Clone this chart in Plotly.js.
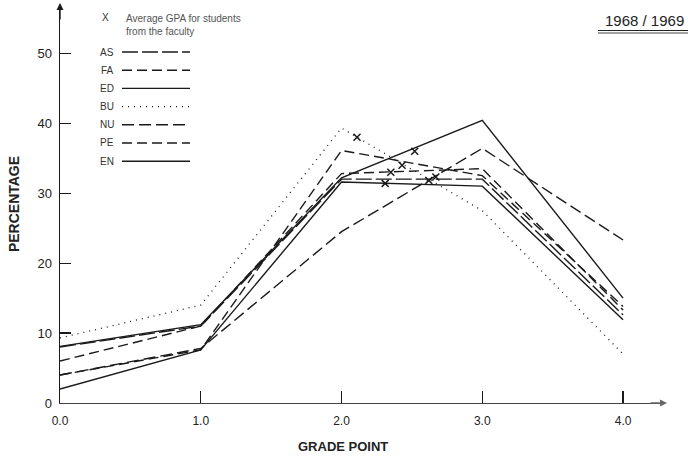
<!DOCTYPE html>
<html>
<head>
<meta charset="utf-8">
<script src="https://cdn.plot.ly/plotly-3.0.1.min.js"></script>
<style>html,body{margin:0;padding:0;background:#fff;}#chart{width:688px;height:465px;}</style>
</head>
<body>
<div id="chart"></div>
<script>
// Grade points (x) and percentages per faculty
const gradePoints = [0, 1, 2, 3, 4];
const gradeLabels = ["0.0", "1.0", "2.0", "3.0", "4.0"];
const faculties = ["AS", "FA", "ED", "BU", "NU", "PE", "EN"];
const AS = [8.0, 11.0, 32.0, 32.0, 12.6];
const FA = [4.0, 7.6, 36.1, 32.5, 13.8];
const ED = [2.0, 7.6, 31.6, 31.0, 11.9];
const BU = [9.3, 14.0, 39.3, 27.5, 7.0];
const NU = [4.0, 7.8, 24.5, 36.4, 23.3];
const PE = [6.0, 11.0, 32.8, 33.5, 13.3];
const EN = [8.1, 11.2, 32.2, 40.4, 15.0];
// Average GPA per faculty (marker positions)
const gpaX = [2.67, 2.43, 2.31, 2.11, 2.62, 2.35, 2.52];
const gpaY = [32.3, 34.0, 31.4, 38.0, 31.8, 33.0, 36.0];
const yTicks = [0, 10, 20, 30, 40, 50];

const series = {AS, FA, ED, BU, NU, PE, EN};
const dashes = {AS: "16px,4px", FA: "10px,5px", ED: "solid", BU: "1px,5px", NU: "12px,5px", PE: "10px,5px", EN: "solid"};
const ink = "#1a1a1a";

const traces = faculties.map(f => ({
  x: gradePoints, y: series[f], type: "scatter", mode: "lines", name: f,
  line: {color: ink, width: f === "BU" ? 1.3 : 1.4, dash: dashes[f]},
  showlegend: false, hoverinfo: "skip"
}));
traces.push({
  x: gpaX, y: gpaY, type: "scatter", mode: "markers", name: "GPA",
  marker: {symbol: "x-thin-open", size: 7, color: ink, line: {width: 1.5, color: ink}},
  showlegend: false, hoverinfo: "skip"
});

// legend decoration (paper coords)
const L = 60, W = 605, B = 403, H = 398;
const px = v => (v - L) / W, py = v => (B - v) / H;
const shapes = [];
const annotations = [];
faculties.forEach((f, i) => {
  const yy = 52 + i * 18.2;
  annotations.push({xref: "paper", yref: "paper", x: px(107), y: py(yy), text: f, showarrow: false,
    xanchor: "center", yanchor: "middle", font: {family: "Liberation Sans, Arial", size: 10, color: "#333"}});
  shapes.push({type: "line", xref: "paper", yref: "paper", x0: px(122), x1: px(190), y0: py(yy), y1: py(yy),
    line: {color: ink, width: f === "BU" ? 1.2 : 1.4, dash: dashes[f]}});
});
annotations.push({xref: "paper", yref: "paper", x: px(105), y: py(17), text: "X", showarrow: false,
  xanchor: "center", yanchor: "middle", font: {family: "Liberation Sans, Arial", size: 10, color: "#333"}});
annotations.push({xref: "paper", yref: "paper", x: px(124), y: py(24.5), text: "Average GPA for students<br>from the faculty",
  showarrow: false, xanchor: "left", yanchor: "middle", align: "left",
  font: {family: "Liberation Sans, Arial", size: 10, color: "#555"}});
annotations.push({xref: "paper", yref: "paper", x: px(686), y: py(21), text: "1968 / 1969", showarrow: false,
  xanchor: "right", yanchor: "middle", font: {family: "Liberation Sans, Arial", size: 15, color: "#222"}});
shapes.push({type: "line", xref: "paper", yref: "paper", x0: px(598), x1: px(688), y0: py(30.5), y1: py(30.5), line: {color: "#222", width: 1}});
shapes.push({type: "line", xref: "paper", yref: "paper", x0: px(598), x1: px(688), y0: py(33), y1: py(33), line: {color: "#444", width: 1}});
// x-axis title placed like the reference (left of plot centre)
annotations.push({xref: "paper", yref: "paper", x: px(343), y: py(446), text: "<b>GRADE POINT</b>", showarrow: false,
  xanchor: "center", yanchor: "middle", font: {family: "Liberation Sans, Arial", size: 13, color: "#222"}});
// axis arrows
annotations.push({xref: "x", yref: "paper", x: 0, y: py(3), ax: 0, ay: 18, text: "", showarrow: true,
  arrowhead: 2, arrowsize: 1, arrowwidth: 1.4, arrowcolor: ink});
annotations.push({xref: "paper", yref: "y", x: px(667), y: 0, ax: -18, ay: 0, text: "", showarrow: true,
  arrowhead: 2, arrowsize: 1, arrowwidth: 1.4, arrowcolor: "#666"});

const layout = {
  width: 688, height: 465,
  margin: {l: 60, r: 23, t: 5, b: 62, pad: 0},
  paper_bgcolor: "#fff", plot_bgcolor: "#fff",
  showlegend: false,
  font: {family: "Liberation Sans, Arial", color: "#222"},
  xaxis: {
    range: [0, 4.298], tickmode: "array", tickvals: gradePoints, ticktext: gradeLabels,
    ticks: "inside", ticklen: 12, tickwidth: 1.2, tickcolor: ink,
    showline: true, linecolor: "#444", linewidth: 1.4, showgrid: false, zeroline: false,
    tickfont: {size: 12, color: "#222"}, ticklabelstandoff: 6
  },
  yaxis: {
    range: [0, 56.9], tickmode: "array", tickvals: yTicks,
    ticks: "inside", ticklen: 11, tickwidth: 1.2, tickcolor: ink,
    showline: true, linecolor: ink, linewidth: 1.5, showgrid: false, zeroline: false,
    tickfont: {size: 13, color: "#222"}, ticklabelstandoff: 4,
    title: {text: "<b>PERCENTAGE</b>", font: {size: 14, color: "#222"}, standoff: 14}
  },
  shapes: shapes,
  annotations: annotations
};

Plotly.newPlot("chart", traces, layout, {displayModeBar: false, staticPlot: true});
</script>
</body>
</html>
